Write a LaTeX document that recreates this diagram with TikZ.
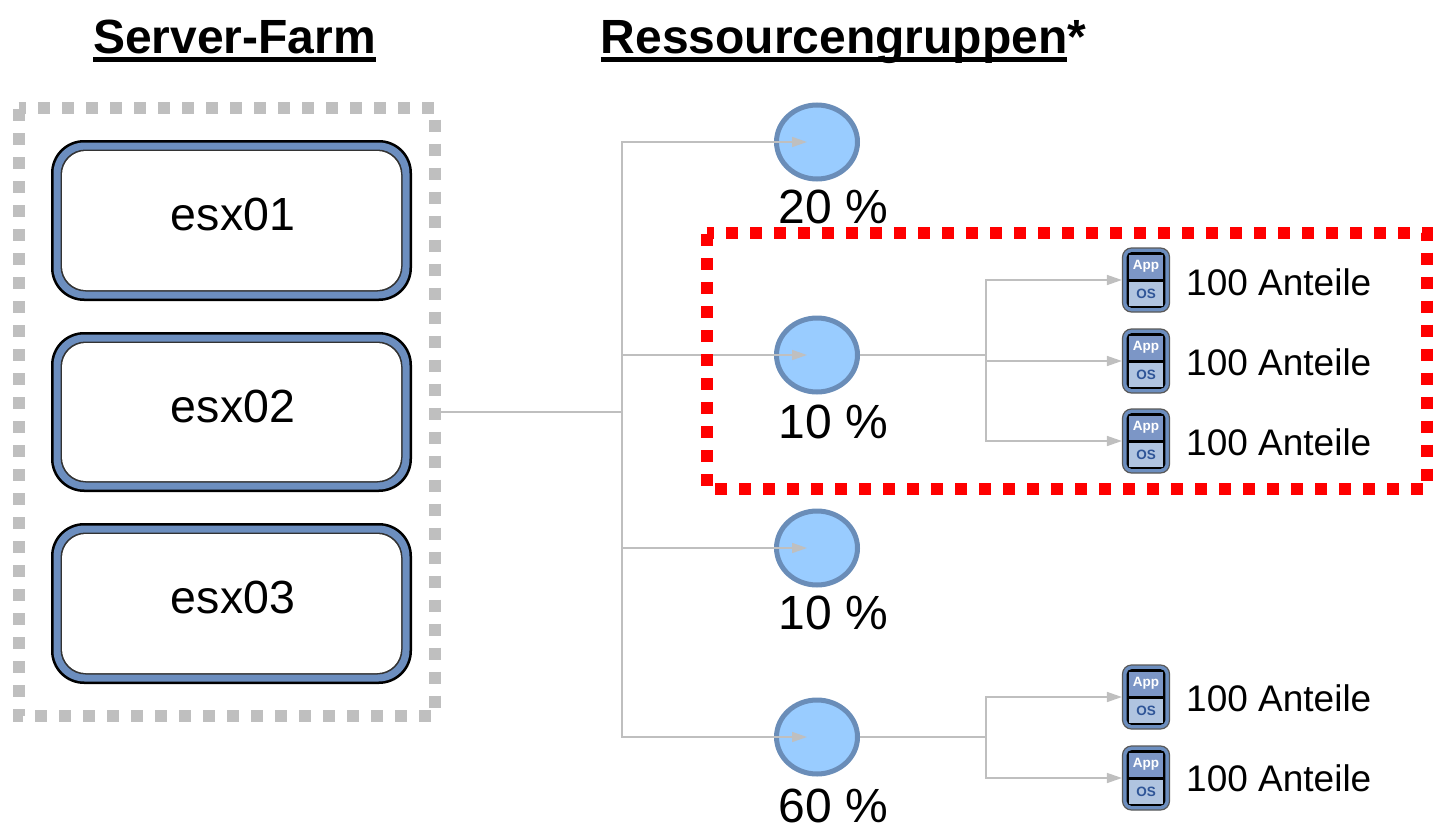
\documentclass[tikz,border=0pt]{standalone}
\usepackage{fontspec}
\setmainfont{Liberation Sans}
\usetikzlibrary{shapes.geometric,arrows.meta}
\definecolor{hostblue}{HTML}{6C8EBF}
\definecolor{poolfill}{HTML}{99CCFF}
\definecolor{poolline}{HTML}{6A8DB8}
\definecolor{conn}{HTML}{BFBFBF}
\definecolor{appblue}{HTML}{7C96C6}
\definecolor{osblue}{HTML}{B0C4E0}
\definecolor{osinkblue}{HTML}{2F5597}
\newcommand\titleul[1]{\setbox0=\hbox{#1}\rlap{\rule[-0.19em]{\wd0}{0.1em}}\box0}
\tikzset{
  pxfont/.style={font=\fontsize{#1}{#1}\selectfont},
  hostlayer/.style={rounded corners=33pt,minimum width=361pt,inner sep=0pt},
  poolnode/.style={ellipse,draw=poolline,fill=poolfill,line width=5pt,minimum width=81pt,minimum height=74pt,inner sep=0pt},
  pctlabel/.style={pxfont=48,inner sep=0pt},
  sharelabel/.style={pxfont=37,anchor=west,inner sep=0pt},
  conline/.style={draw=conn,line width=1.6pt},
  conarrow/.style={conline,-{Triangle[length=15pt,width=10pt]}},
  icon/.style={draw=black!65,fill=hostblue,line width=1.2pt,rounded corners=9pt,minimum width=47pt,minimum height=64pt,inner sep=0pt},
  iconin/.style={draw=black,line width=1.6pt,fill=black,rounded corners=4pt,minimum width=37pt,minimum height=54pt,inner sep=0pt},
  dotframe/.style={line width=12pt,dash pattern=on 12pt off 12pt,dash phase=4.5pt},
}
\newcommand\appicon[2]{%
  \node[icon] (#1) at (1146,#2) {};
  \node[iconin] at (1146,#2) {};
  \fill[appblue] (1129,#2-25) rectangle (1163,#2-1);
  \fill[osblue] (1129,#2+2) rectangle (1163,#2+26);
  \node[text=white,font=\bfseries\fontsize{13.5}{13.5}\selectfont,inner sep=0pt] at (1146,#2-14) {App};
  \node[text=osinkblue,font=\bfseries\fontsize{13.5}{13.5}\selectfont,inner sep=0pt] at (1146,#2+14) {OS};
}
\newcommand\hostbox[4]{% name, centre y, height, text y
  \node[hostlayer,fill=black,minimum height=#3 pt] at (231.5,#2) {};
  \node[hostlayer,fill=hostblue,minimum width=356pt,minimum height=#3 pt-5pt,rounded corners=31pt] at (231.5,#2) {};
  \node[hostlayer,fill=black!80,minimum width=342pt,minimum height=#3 pt-19pt,rounded corners=25pt] at (231.5,#2) {};
  \node[hostlayer,fill=white,minimum width=339pt,minimum height=#3 pt-22pt,rounded corners=24pt] (#1) at (231.5,#2) {};
  \node[pxfont=46.5,inner sep=0pt] (#1t) at (233,#4) {#1};
}
\begin{document}
\begin{tikzpicture}[x=1pt,y=-1pt]
\useasboundingbox (0,0) rectangle (1438,835);
% titles
\node[font=\bfseries\fontsize{48}{48}\selectfont,inner sep=0pt,anchor=base west] (tfarm) at (93,53) {\titleul{Server-Farm}};
\node[font=\bfseries\fontsize{48}{48}\selectfont,inner sep=0pt,anchor=base west] (tres) at (600.5,53) {\titleul{Ressourcengruppen}*};
% server farm frame
\draw[conn,dotframe] (18.5,108) -- (434.5,108) -- (434.5,716) -- (18.5,716) -- cycle;
% hosts
\hostbox{esx01}{220.5}{161}{214}
\hostbox{esx02}{412}{160}{406}
\hostbox{esx03}{603.5}{161}{597}
% pools
\node[poolnode] (p1) at (817,142) {};
\node[poolnode] (p2) at (817,355) {};
\node[poolnode] (p3) at (817,548) {};
\node[poolnode] (p4) at (817,737) {};
\node[pctlabel] (l1) at (833.5,207) {20 \%};
\node[pctlabel] (l2) at (833.5,422) {10 \%};
\node[pctlabel] (l3) at (833.5,613) {10 \%};
\node[pctlabel] (l4) at (833.5,806) {60 \%};
% icons
\appicon{a1}{280}
\appicon{a2}{361}
\appicon{a3}{441}
\appicon{a4}{697}
\appicon{a5}{778}
\node[sharelabel] (s1) at (1186,282) {100 Anteile};
\node[sharelabel] (s2) at (1186,362) {100 Anteile};
\node[sharelabel] (s3) at (1186,442) {100 Anteile};
\node[sharelabel] (s4) at (1186,698) {100 Anteile};
\node[sharelabel] (s5) at (1186,778) {100 Anteile};
% connectors
\coordinate (farmE) at (441,412);
\coordinate (hub) at (622,412);
\coordinate (c1) at (807,142);
\coordinate (c2) at (807,355);
\coordinate (c3) at (807,548);
\coordinate (c4) at (807,737);
\draw[conline] (farmE) -- (hub);
\draw[conarrow] (hub) |- (c1);
\draw[conarrow] (hub) |- (c2);
\draw[conarrow] (hub) |- (c3);
\draw[conarrow] (hub) |- (c4);
\coordinate (j2) at (986,355);
\coordinate (j4) at (986,737);
\draw[conline] (p2.east) -- (j2);
\draw[conarrow] (j2) |- (a1.west);
\draw[conarrow] (j2) |- (a2.west);
\draw[conarrow] (j2) |- (a3.west);
\draw[conline] (p4.east) -- (j4);
\draw[conarrow] (j4) |- (a4.west);
\draw[conarrow] (j4) |- (a5.west);
% highlight frame
\draw[red,dotframe] (706.5,233) -- (1426.5,233) -- (1426.5,489) -- (706.5,489) -- cycle;
\end{tikzpicture}
\end{document}
